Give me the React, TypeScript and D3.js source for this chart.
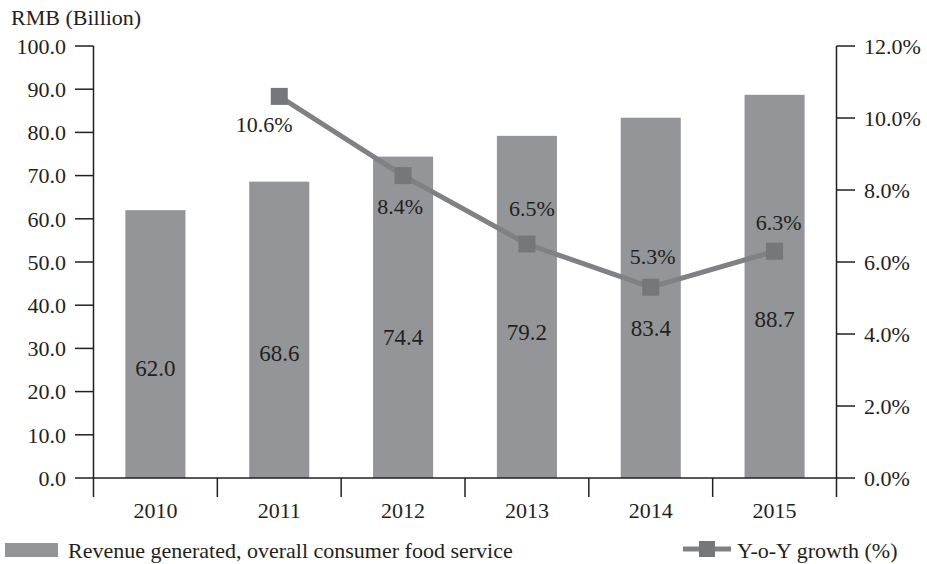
import React from "react";
import * as d3 from "d3";

const years = ["2010", "2011", "2012", "2013", "2014", "2015"];
const revenue = [62.0, 68.6, 74.4, 79.2, 83.4, 88.7];
const growthYears = ["2011", "2012", "2013", "2014", "2015"];
const growth = [10.6, 8.4, 6.5, 5.3, 6.3];
const leftTicks = [0, 10, 20, 30, 40, 50, 60, 70, 80, 90, 100];
const rightTicks = [0, 2, 4, 6, 8, 10, 12];
// vertical anchor of the value label inside each bar (in RMB billion units)
const barLabelAnchor = [25.5, 28.9, 32.6, 33.8, 34.7, 36.8];
// label offsets (px) relative to each growth marker
const growthLabelOffset: [number, number][] = [
  [-15, 28],
  [-3, 31],
  [5, -36],
  [2, -31],
  [4, -29],
];

const W = 927;
const H = 564;
const X0 = 93.5;
const X1 = 836.5;
const YT = 46;
const YB = 478;
const FONT = "'Liberation Serif', 'Times New Roman', serif";
const INK = "#231f20";
const BAR = "#939598";
const LINE = "#808184";
const MARK = "#76777a";

export default function App() {
  const x = d3.scaleBand<string>().domain(years).range([X0, X1]).padding(0);
  const yL = d3.scaleLinear().domain([0, 100]).range([YB, YT]);
  const yR = d3.scaleLinear().domain([0, 12]).range([YB, YT]);
  const bw = x.bandwidth() * 0.485;
  const cx = (c: string) => (x(c) as number) + x.bandwidth() / 2;

  const line = d3
    .line<number>()
    .x((_, i) => cx(growthYears[i]))
    .y((d) => yR(d));

  const boundaries = [...years.map((y) => x(y) as number), X1];

  return (
    <svg
      width={W}
      height={H}
      style={{ position: "absolute", left: 0, top: 0, background: "#fff" }}
      fontFamily={FONT}
    >
      <text x={11} y={25} fontSize={22} fill={INK}>
        RMB (Billion)
      </text>

      {/* bars */}
      {revenue.map((v, i) => (
        <rect
          key={years[i]}
          x={cx(years[i]) - bw / 2}
          y={yL(v)}
          width={bw}
          height={YB - yL(v)}
          fill={BAR}
        />
      ))}
      {revenue.map((v, i) => (
        <text
          key={"bl" + i}
          x={cx(years[i])}
          y={yL(barLabelAnchor[i])}
          dy="0.35em"
          textAnchor="middle"
          fontSize={23}
          fill={INK}
        >
          {v.toFixed(1)}
        </text>
      ))}

      {/* left axis */}
      <line x1={X0} x2={X0} y1={YT} y2={YB} stroke={INK} strokeWidth={1.5} />
      {leftTicks.map((t) => (
        <g key={"l" + t}>
          <line x1={75} x2={X0} y1={yL(t)} y2={yL(t)} stroke={INK} strokeWidth={1.5} />
          <text x={66} y={yL(t)} dy="0.35em" textAnchor="end" fontSize={22} fill={INK}>
            {t.toFixed(1)}
          </text>
        </g>
      ))}

      {/* right axis */}
      <line x1={X1} x2={X1} y1={YT} y2={YB} stroke={INK} strokeWidth={1.5} />
      {rightTicks.map((t) => (
        <g key={"r" + t}>
          <line x1={X1} x2={855} y1={yR(t)} y2={yR(t)} stroke={INK} strokeWidth={1.5} />
          <text x={864} y={yR(t)} dy="0.35em" textAnchor="start" fontSize={22} fill={INK}>
            {t.toFixed(1) + "%"}
          </text>
        </g>
      ))}

      {/* x axis */}
      <line x1={X0} x2={X1} y1={YB} y2={YB} stroke={INK} strokeWidth={1.5} />
      {boundaries.map((b, i) => (
        <line key={"xt" + i} x1={b} x2={b} y1={YB} y2={497} stroke={INK} strokeWidth={1.5} />
      ))}
      {years.map((c) => (
        <text key={"xl" + c} x={cx(c)} y={510} dy="0.35em" textAnchor="middle" fontSize={22} fill={INK}>
          {c}
        </text>
      ))}

      {/* growth line */}
      <path d={line(growth) || ""} fill="none" stroke={LINE} strokeWidth={5} />
      {growth.map((g, i) => (
        <rect
          key={"m" + i}
          x={cx(growthYears[i]) - 8.5}
          y={yR(g) - 8.5}
          width={17}
          height={17}
          fill={MARK}
        />
      ))}
      {growth.map((g, i) => (
        <text
          key={"gl" + i}
          x={cx(growthYears[i]) + growthLabelOffset[i][0]}
          y={yR(g) + growthLabelOffset[i][1]}
          dy="0.35em"
          textAnchor="middle"
          fontSize={22}
          fill={INK}
        >
          {g.toFixed(1) + "%"}
        </text>
      ))}

      {/* legend */}
      <rect x={5} y={543} width={53} height={14} fill={BAR} />
      <text x={68} y={550} dy="0.35em" fontSize={22} fill={INK}>
        Revenue generated, overall consumer food service
      </text>
      <line x1={683} x2={731} y1={549} y2={549} stroke={LINE} strokeWidth={5} />
      <rect x={699} y={541} width={16} height={16} fill={MARK} />
      <text x={737} y={550} dy="0.35em" fontSize={22} fill={INK}>
        Y-o-Y growth (%)
      </text>
    </svg>
  );
}
